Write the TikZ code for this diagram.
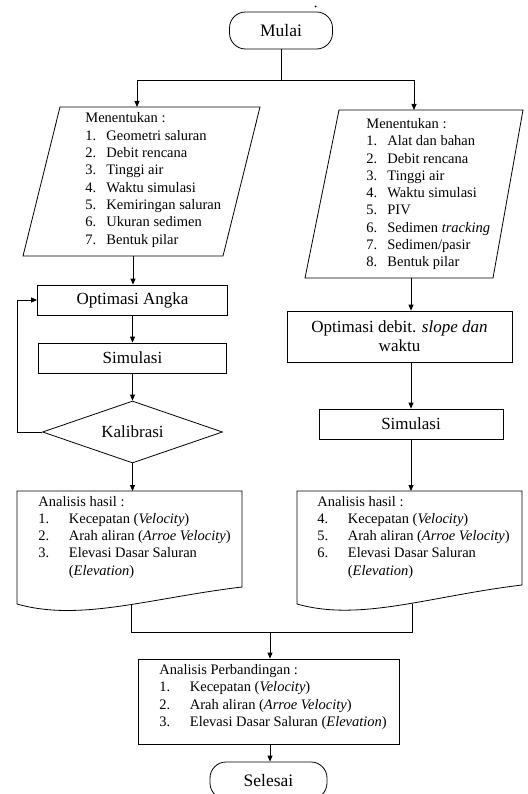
\documentclass[tikz,border=0pt]{standalone}
\usepackage{fontspec}
\setmainfont{Liberation Serif}
\usetikzlibrary{arrows.meta,shapes.geometric}
\newcommand{\nma}[1]{\makebox[21pt][l]{#1}}
\newcommand{\nmb}[1]{\makebox[30.5pt][l]{#1}}
\begin{document}
\begin{tikzpicture}[x=1pt,y=-1pt,
  line width=0.8pt,
  arr/.style={-{Triangle[length=6pt,width=5pt]}},
  box/.style={draw, rectangle, inner sep=0pt, font=\fontsize{17}{19}\selectfont},
  term/.style={draw, rectangle, rounded corners=16pt, inner sep=0pt, font=\fontsize{17.5}{20}\selectfont},
  lst/.style={anchor=base west, inner sep=0pt, font=\fontsize{14.5}{17.3}\selectfont},
]
\useasboundingbox (0,0) rectangle (527,794);
\fill[white] (0,0) rectangle (527,794);

% stray dot
\fill (315.5,6.5) circle (1pt);

% start
\node[term, minimum width=103pt, minimum height=37pt] (mulai) at (281,30.5) {Mulai};

% parallelograms
\coordinate (pLt) at (137,107);
\coordinate (pLb) at (133,256);
\draw (60,107) -- (260,107) -- (223,256) -- (23,256) -- cycle;
\coordinate (pRt) at (414,110);
\coordinate (pRb) at (411,278);
\draw (339,110) -- (523,110) -- (493,278) -- (305,278) -- cycle;

\node[lst] (tL) at (85,123) {\begin{tabular}[t]{@{}l@{}}
Menentukan :\\
\nma{1.}Geometri saluran\\
\nma{2.}Debit rencana\\
\nma{3.}Tinggi air\\
\nma{4.}Waktu simulasi\\
\nma{5.}Kemiringan saluran\\
\nma{6.}Ukuran sedimen\\
\nma{7.}Bentuk pilar
\end{tabular}};

\node[lst] (tR) at (366,128.5) {\begin{tabular}[t]{@{}l@{}}
Menentukan :\\
\nma{1.}Alat dan bahan\\
\nma{2.}Debit rencana\\
\nma{3.}Tinggi air\\
\nma{4.}Waktu simulasi\\
\nma{5.}PIV\\
\nma{6.}Sedimen \textit{tracking}\\
\nma{7.}Sedimen/pasir\\
\nma{8.}Bentuk pilar
\end{tabular}};

% left column
\node[box, minimum width=190pt, minimum height=30pt] (opt) at (132.5,300) {Optimasi Angka};
\node[box, minimum width=188pt, minimum height=30pt] (simL) at (132.5,358) {Simulasi};
\node[draw, diamond, minimum width=180pt, minimum height=62pt, inner sep=0pt, aspect=2.9, font=\fontsize{17}{19}\selectfont] (kal) at (132.5,432) {Kalibrasi};

% right column
\node[box, minimum width=225pt, minimum height=51pt, align=center] (optR) at (399.5,336.5) {Optimasi debit. \textit{slope dan}\\waktu};
\node[box, minimum width=184pt, minimum height=30pt] (simR) at (411,424) {Simulasi};

% documents
\coordinate (docLt) at (132.5,491);
\coordinate (docLb) at (131,605);
\draw (17,604) -- (17,491) -- (242,491) -- (242,587) .. controls (150,598) and (80,622) .. (17,604);
\coordinate (docRt) at (411,491);
\coordinate (docRb) at (412,604);
\draw (297,604) -- (297,491) -- (522,491) -- (522,585) .. controls (430,596) and (360,622) .. (297,604);

\node[lst] (aL) at (38,506) {\begin{tabular}[t]{@{}l@{}}
Analisis hasil :\\
\nmb{1.}Kecepatan (\textit{Velocity})\\
\nmb{2.}Arah aliran (\textit{Arroe Velocity})\\
\nmb{3.}Elevasi Dasar Saluran\\
\nmb{}(\textit{Elevation})
\end{tabular}};

\node[lst] (aR) at (317,506) {\begin{tabular}[t]{@{}l@{}}
Analisis hasil :\\
\nmb{4.}Kecepatan (\textit{Velocity})\\
\nmb{5.}Arah aliran (\textit{Arroe Velocity})\\
\nmb{6.}Elevasi Dasar Saluran\\
\nmb{}(\textit{Elevation})
\end{tabular}};

% comparison box
\node[draw, rectangle, inner sep=0pt, minimum width=261pt, minimum height=85pt] (perb) at (268.5,701.5) {};
\node[lst, font=\fontsize{14.5}{17.5}\selectfont] (tP) at (159,674) {\begin{tabular}[t]{@{}l@{}}
Analisis Perbandingan :\\
\nmb{1.}Kecepatan (\textit{Velocity})\\
\nmb{2.}Arah aliran (\textit{Arroe Velocity})\\
\nmb{3.}Elevasi Dasar Saluran (\textit{Elevation})
\end{tabular}};

\node[term, minimum width=117pt, minimum height=37pt] (selesai) at (268.5,780.5) {Selesai};

% connectors
\coordinate (jC) at (281,80);
\coordinate (jL) at (137,80);
\coordinate (jR) at (414,80);
\draw (mulai.south) -- (jC);
\draw (jL) -- (jR);
\draw[arr] (jL) -- (pLt);
\draw[arr] (jR) -- (pRt);

\draw[arr] (pLb) -- (pLb |- opt.north);
\draw[arr] (opt.south) -- (simL.north);
\draw[arr] (simL.south) -- (kal.north);
\draw[arr] (kal.west) -- ++(-25,0) |- (opt.west);
\draw[arr] (kal.south) -- (docLt);

\draw[arr] (pRb) -- (pRb |- optR.north);
\draw[arr] (optR.south -| simR.north) -- (simR.north);
\draw[arr] (simR.south) -- (docRt);

\coordinate (mL) at (131,632);
\coordinate (mR) at (412,632);
\coordinate (mC) at (270,632);
\draw (docLb) -- (mL) -- (mR) -- (docRb);
\draw[arr] (mC) -- (mC |- perb.north);
\draw[arr] (perb.south -| mC) -- (selesai.north -| mC);
\end{tikzpicture}
\end{document}
